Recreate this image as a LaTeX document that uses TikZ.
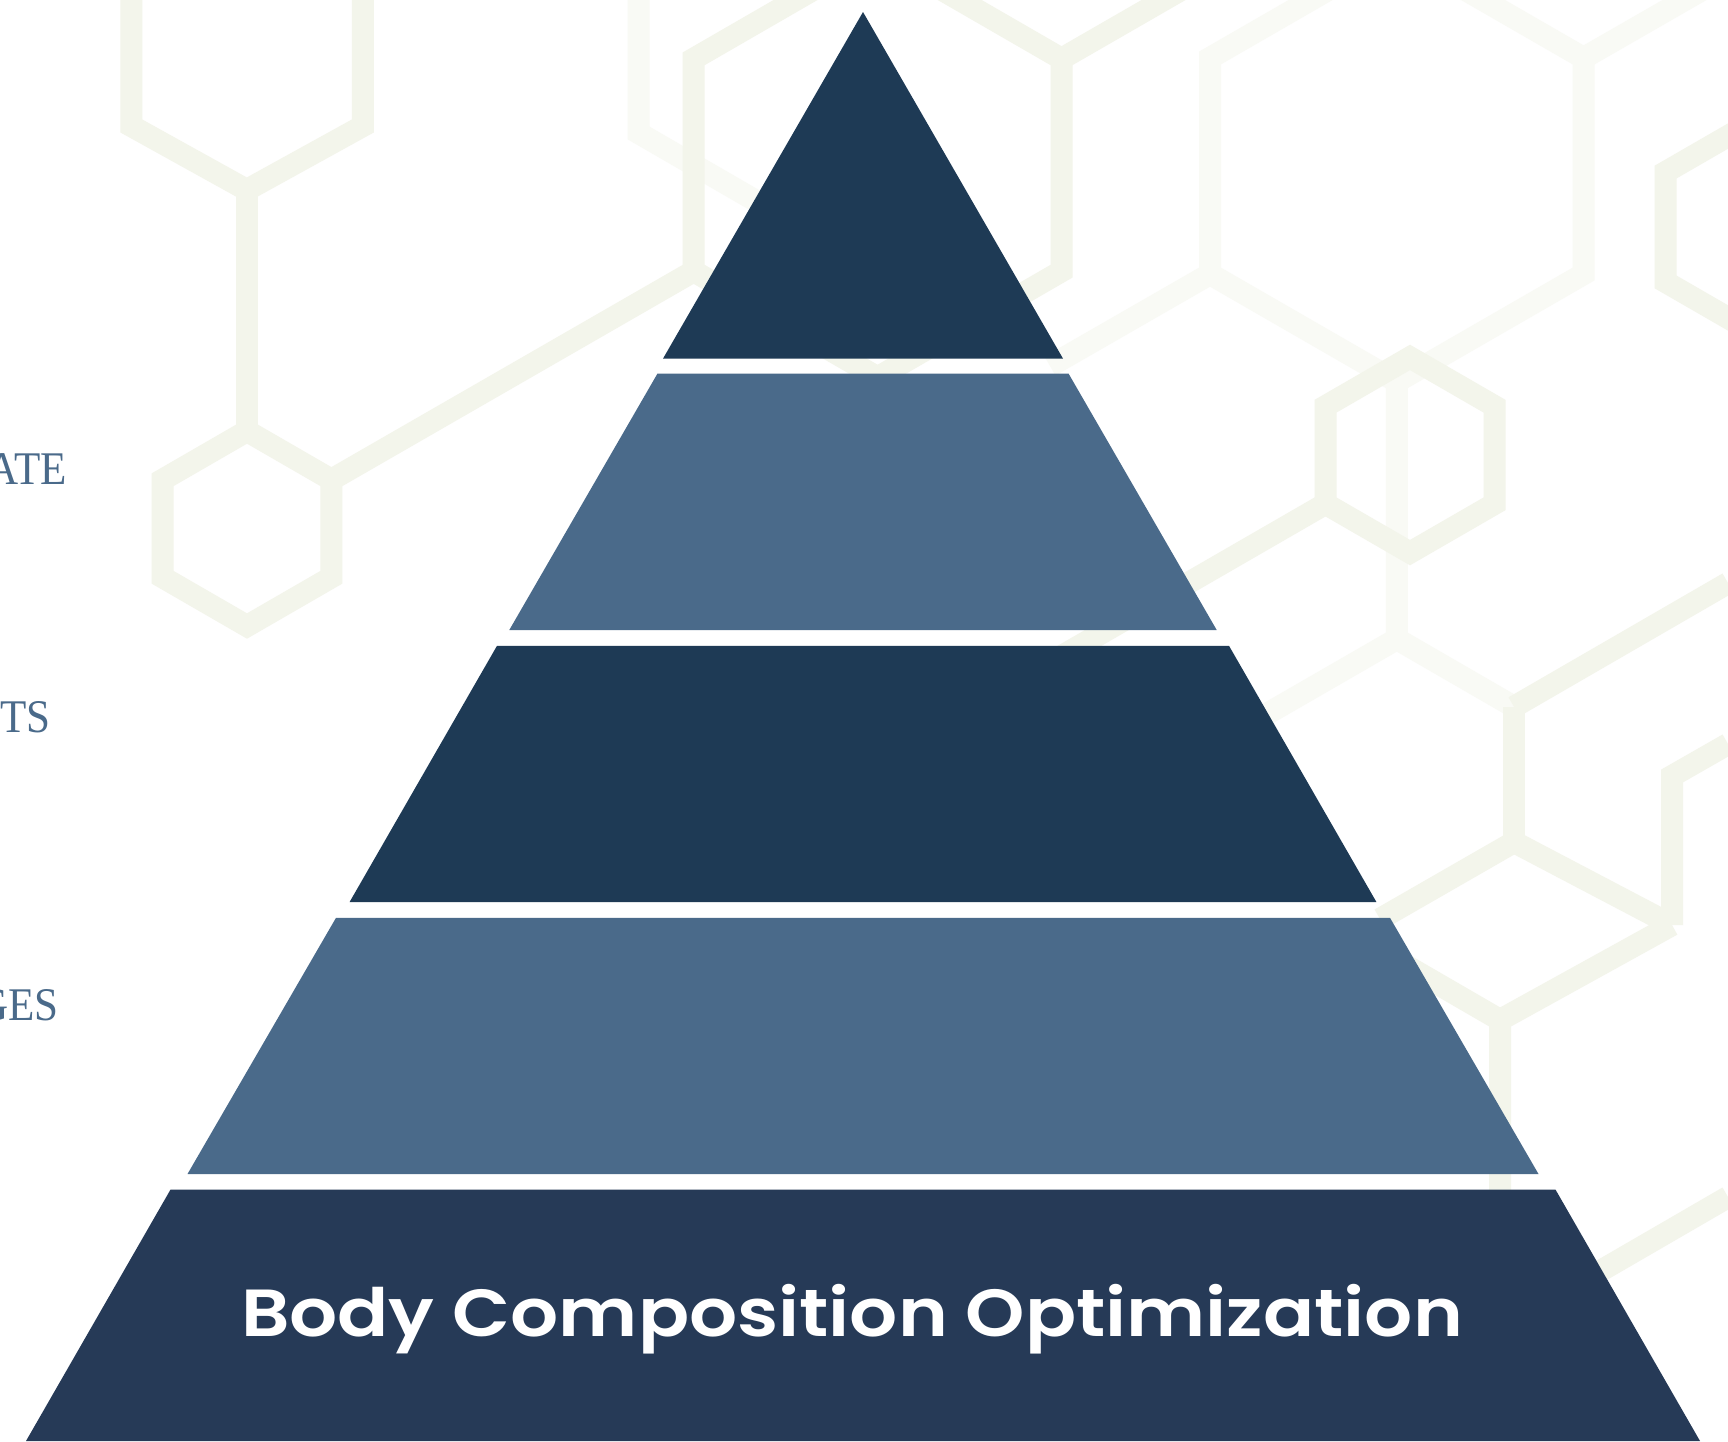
\documentclass[tikz,border=0pt]{standalone}
\usepackage{fontspec}
\newfontfamily\titlefont{Poppins}[UprightFont={* SemiBold}]
\newfontfamily\labelfont{Liberation Serif}
\definecolor{tierdark}{HTML}{1E3A55}
\definecolor{tierlight}{HTML}{4A6A8A}
\definecolor{tierbase}{HTML}{263A57}
\definecolor{hexdark}{HTML}{F3F5EB}
\definecolor{hexfaint}{HTML}{F9FAF5}
\begin{document}
\begin{tikzpicture}[x=0.5pt,y=-0.5pt,
  bond/.style={line width=11pt, line join=miter, draw=hexdark},
  faintbond/.style={line width=11pt, line join=miter, draw=hexfaint},
  sidelabel/.style={text=tierlight, font=\labelfont\fontsize{23.4}{26}\selectfont, inner sep=0pt, anchor=base east, xscale=0.92},
  tiertext/.style={text=white, font=\titlefont\fontsize{33.3}{38}\selectfont, inner sep=0pt, anchor=base, xscale=1.134}]
\useasboundingbox (0,0) rectangle (1728,1441);
\clip (0,0) rectangle (1728,1441);
\fill[white] (0,0) rectangle (1728,1441);

% faint background bonds
\draw[faintbond] (638.6,-30) -- (638.6,133) -- (820,238);
\draw[faintbond] (1396.8,-49.7) -- (1583.6,58) -- (1583.6,274) -- (1396.8,381.7) -- (1210,274) -- (1210,58) -- cycle;
\draw[faintbond] (1583.6,58) -- (1728,-25);
\draw[faintbond] (1210,274) -- (1050,366);
\draw[faintbond] (1396.8,381.7) -- (1396.8,639) -- (1514,706.8);
\draw[faintbond] (1396.8,639) -- (1250,723.7);

% molecular background bonds
\draw[bond] (131.4,-30) -- (131.4,126) -- (246.8,190) -- (362.8,126) -- (362.8,-30);
\draw[bond] (246.8,190) -- (246.8,431);
\draw[bond] (247,431) -- (331.4,479.75) -- (331.4,577.25) -- (247,626) -- (162.6,577.25) -- (162.6,479.75) -- cycle;
\draw[bond] (331.4,479.75) -- (693.7,271.2);
\draw[bond] (877.6,-47.4) -- (1061.5,58.8) -- (1061.5,271.2) -- (877.6,377.4) -- (693.7,271.2) -- (693.7,58.8) -- cycle;
\draw[bond] (1061.5,58.8) -- (1200,-21);
\draw[bond] (1410,357.4) -- (1494.5,406.2) -- (1494.5,503.8) -- (1410,552.6) -- (1325.5,503.8) -- (1325.5,406.2) -- cycle;
\draw[bond] (1325.5,503.8) -- (1000,691.7);
\draw[bond] (1665.7,172) -- (1761,117) -- (1856,172) -- (1856,282) -- (1761,337) -- (1665.7,282) -- cycle;
\draw[bond] (1514,706.8) -- (1728,583);
\draw[bond] (1514,706.8) -- (1514,842);
\draw[bond] (1514,842) -- (1380,919);
\draw[bond] (1514,842) -- (1672,925);
\draw[bond] (1672,925) -- (1672,776) -- (1728,744);
\draw[bond] (1672,925) -- (1500,1020) -- (1500,1200);
\draw[bond] (1500,1020) -- (1393,958);
\draw[bond] (1590,1277) -- (1728,1197);

% pyramid tiers
\fill[tierdark]  (863,12) -- (1063,358.6) -- (663,358.6) -- cycle;
\fill[tierlight] (657.4,373.7) -- (1068.6,373.7) -- (1216.7,630) -- (509.3,630) -- cycle;
\fill[tierdark]  (497,645.8) -- (1229,645.8) -- (1376.4,902) -- (349.6,902) -- cycle;
\fill[tierlight] (336,917.8) -- (1390,917.8) -- (1538.5,1174) -- (187.5,1174) -- cycle;
\fill[tierbase]  (170.5,1189.6) -- (1555.5,1189.6) -- (1700,1441) -- (26,1441) -- cycle;

\node[tiertext] (basetitle) at (852,1336.7) {Body Composition Optimization};

% side labels
\node[sidelabel] (labA) at (67,484.3) {ATE};
\node[sidelabel] (labB) at (51,732) {TS};
\node[sidelabel] (labC) at (59,1020) {GES};
\end{tikzpicture}
\end{document}
